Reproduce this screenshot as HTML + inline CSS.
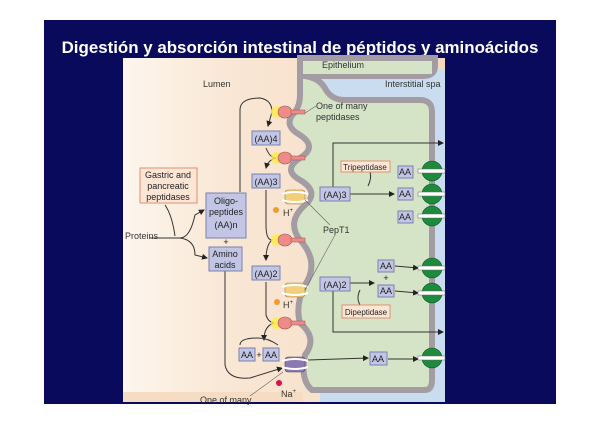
<!DOCTYPE html>
<html><head><style>
body{margin:0;background:#fff;width:600px;height:424px;overflow:hidden;font-family:"Liberation Sans",sans-serif}
</style></head><body>
<svg width="600" height="424" xmlns="http://www.w3.org/2000/svg" font-family="Liberation Sans, sans-serif">
<defs>
<linearGradient id="lg" x1="0" x2="1"><stop offset="0" stop-color="#fdf6ee"/><stop offset="0.3" stop-color="#f9e8d6"/><stop offset="1" stop-color="#f4d9bf"/></linearGradient>
<marker id="a" markerWidth="6" markerHeight="6" refX="5" refY="3" orient="auto"><path d="M0,0L6,3L0,6z" fill="#222"/></marker>
</defs>
<rect x="44" y="20" width="512" height="384" fill="#0a0a5c"/>
<text x="300" y="53" fill="#fff" font-size="16.9" font-weight="bold" text-anchor="middle">Digestión y absorción intestinal de péptidos y aminoácidos</text>
<rect x="123" y="58" width="322" height="344" fill="url(#lg)"/>
<rect x="320" y="70" width="125" height="332" fill="#c9dcf0"/>
<path d="M300,58 L300,66 Q300,76 312,76 L423,76 Q435,76 435,66 L435,58 Z" fill="#d5e4c6" stroke="#a39ca3" stroke-width="6"/>
<path d="M300,58 L300,95 Q300,105 295,112 Q282,125 300,135 Q318,147 300,158 Q282,170 300,180 Q320,192 305,205 Q286,222 300,240 Q320,262 305,285 Q295,305 300,323 Q318,338 305,355 Q300,380 312,390 L425,390 Q432,390 432,380 L432,112 Q432,100 420,100 L345,100 Q332,100 326,90 Q320,78 305,76 L300,76" fill="#d5e4c6" stroke="#a39ca3" stroke-width="6"/>
<rect x="303" y="62" width="129" height="12" fill="#d5e4c6"/>
<rect x="123" y="392" width="180" height="10" fill="#f6dcc2"/>
<g font-size="9" fill="#333">
<text x="322" y="68">Epithelium</text>
<text x="203" y="87">Lumen</text>
<text x="385" y="87">Interstitial spa</text>
<text x="316" y="109">One of many</text>
<text x="316" y="120">peptidases</text>
<text x="323" y="233">PepT1</text>
<text x="125" y="239">Proteins</text>
<text x="283" y="216">H<tspan font-size="6" dy="-4">+</tspan></text>
<text x="283" y="308">H<tspan font-size="6" dy="-4">+</tspan></text>
<text x="281" y="397">Na<tspan font-size="6" dy="-4">+</tspan></text>
<text x="200" y="403">One of many</text>
</g>
<g fill="none" stroke="#333" stroke-width="1">
<path d="M240,192 L240,110 Q240,98 260,98 Q272,100 272,112 L268,126" marker-end="url(#a)"/>
<path d="M266,148 Q270,158 276,158 Q268,160 266,168" marker-end="url(#a)"/>
<path d="M266,190 L266,225 Q266,240 272,240 Q266,245 266,260" marker-end="url(#a)"/>
<path d="M266,282 L266,315 Q268,322 274,323 Q264,326 264,340" marker-end="url(#a)"/>
<path d="M225,270 L225,365 Q228,380 250,378 L282,368" marker-end="url(#a)"/>
<path d="M150,238 L180,238 Q190,238 195,215 L204,210" marker-end="url(#a)"/>
<path d="M180,238 Q195,240 195,255 L207,258" marker-end="url(#a)"/>
<path d="M165,205 Q172,215 175,236"/>
<path d="M333,188 L333,143 L443,143" marker-end="url(#a)"/>
<path d="M350,194 L394,194" marker-end="url(#a)"/>
<path d="M370,172 Q372,178 368,186"/>
<path d="M350,283 L374,283" marker-end="url(#a)"/>
<path d="M333,290 L333,332 L443,332" marker-end="url(#a)"/>
<path d="M360,305 Q356,298 360,290"/>
<path d="M308,360 L368,358" marker-end="url(#a)"/>
<path d="M388,359 L418,359" marker-end="url(#a)"/>
<path d="M395,266 L418,268" marker-end="url(#a)"/>
<path d="M395,291 L418,293" marker-end="url(#a)"/>
<path d="M240,345 Q240,338 258,338 Q268,338 278,345"/>
</g>
<g font-size="9" fill="#222" text-anchor="middle">
<rect x="140" y="168" width="57" height="35" fill="#fde6d6" stroke="#e09070"/>
<text x="168" y="178">Gastric and</text><text x="168" y="189">pancreatic</text><text x="168" y="200">peptidases</text>
<rect x="206" y="193" width="40" height="45" fill="#c2c6e4" stroke="#7a80b0"/>
<text x="226" y="204">Oligo-</text><text x="226" y="215">peptides</text><text x="226" y="228">(AA)n</text>
<text x="226" y="245">+</text>
<rect x="209" y="247" width="33" height="24" fill="#c2c6e4" stroke="#7a80b0"/>
<text x="225" y="257">Amino</text><text x="225" y="268">acids</text>
<rect x="252" y="131" width="28" height="14" fill="#c2c6e4" stroke="#7a80b0"/><text x="266" y="142">(AA)4</text>
<rect x="252" y="174" width="28" height="14" fill="#c2c6e4" stroke="#7a80b0"/><text x="266" y="185">(AA)3</text>
<rect x="252" y="266" width="28" height="14" fill="#c2c6e4" stroke="#7a80b0"/><text x="266" y="277">(AA)2</text>
<rect x="320" y="187" width="30" height="14" fill="#c2c6e4" stroke="#7a80b0"/><text x="335" y="198">(AA)3</text>
<rect x="320" y="277" width="30" height="14" fill="#c2c6e4" stroke="#7a80b0"/><text x="335" y="288">(AA)2</text>
<rect x="341" y="161" width="49" height="11" fill="#fde6d6" stroke="#e09070"/><text x="365" y="170" font-size="8">Tripeptidase</text>
<rect x="342" y="305" width="48" height="13" fill="#fde6d6" stroke="#e09070"/><text x="366" y="315" font-size="8">Dipeptidase</text>
<rect x="398" y="166" width="15" height="12" fill="#c2c6e4" stroke="#7a80b0"/><text x="405" y="175">AA</text>
<rect x="398" y="188" width="15" height="12" fill="#c2c6e4" stroke="#7a80b0"/><text x="405" y="197">AA</text>
<rect x="398" y="211" width="15" height="12" fill="#c2c6e4" stroke="#7a80b0"/><text x="405" y="220">AA</text>
<rect x="378" y="260" width="16" height="12" fill="#c2c6e4" stroke="#7a80b0"/><text x="386" y="269">AA</text>
<text x="386" y="281">+</text>
<rect x="378" y="285" width="16" height="12" fill="#c2c6e4" stroke="#7a80b0"/><text x="386" y="294">AA</text>
<rect x="370" y="352" width="17" height="13" fill="#c2c6e4" stroke="#7a80b0"/><text x="378" y="362">AA</text>
<rect x="239" y="348" width="16" height="13" fill="#c2c6e4" stroke="#7a80b0"/><text x="247" y="358">AA</text>
<text x="259" y="358">+</text>
<rect x="263" y="348" width="16" height="13" fill="#c2c6e4" stroke="#7a80b0"/><text x="271" y="358">AA</text>
</g>
<g>
<g id="pep"><circle cx="277" cy="112" r="6" fill="#ffee44" opacity="0.8"/><ellipse cx="285" cy="112" rx="7" ry="6" fill="#ee8a88" stroke="#a05050" stroke-width="0.6"/><rect x="291" y="110" width="14" height="4" fill="#ee8a88" stroke="#a05050" stroke-width="0.5"/></g>
<use href="#pep" y="46"/><use href="#pep" y="128"/><use href="#pep" y="211"/>
<g id="pt"><rect x="285" y="190" width="20" height="14" rx="3" fill="#f3cf7a" stroke="#a08040" stroke-width="0.6"/><path d="M282,194 Q295,190 308,194 M282,200 Q295,204 308,200" stroke="#fff" stroke-width="2" fill="none"/></g>
<use href="#pt" y="93"/>
<rect x="285" y="357" width="20" height="15" rx="3" fill="#8a78b0" stroke="#504070" stroke-width="0.6"/>
<path d="M282,361 Q295,357 308,361 M282,367 Q295,371 308,367" stroke="#fff" stroke-width="2" fill="none"/>
<circle cx="276" cy="210" r="3" fill="#f09a30"/><circle cx="277" cy="302" r="3" fill="#f09a30"/><circle cx="279" cy="383" r="3" fill="#e01040"/>
<g fill="#1e8a3c" stroke="#0c5020" stroke-width="0.6">
<circle cx="432" cy="171" r="10"/><circle cx="432" cy="194" r="10"/><circle cx="432" cy="216" r="10"/>
<circle cx="432" cy="268" r="10"/><circle cx="432" cy="293" r="10"/><circle cx="432" cy="358" r="10"/>
</g>
<g fill="#fff" stroke="#666" stroke-width="0.5">
<rect x="418" y="169" width="27" height="4"/><rect x="418" y="192" width="27" height="4"/><rect x="418" y="214" width="27" height="4"/>
<rect x="418" y="266" width="27" height="4"/><rect x="418" y="291" width="27" height="4"/><rect x="418" y="356" width="27" height="4"/>
</g>
</g>
<line x1="305" y1="200" x2="330" y2="225" stroke="#666" stroke-width="0.6"/>
<line x1="305" y1="290" x2="335" y2="235" stroke="#666" stroke-width="0.6"/>
<line x1="305" y1="113" x2="316" y2="106" stroke="#666" stroke-width="0.6"/>
<line x1="250" y1="396" x2="283" y2="372" stroke="#666" stroke-width="0.6"/>
</svg>
</body></html>
